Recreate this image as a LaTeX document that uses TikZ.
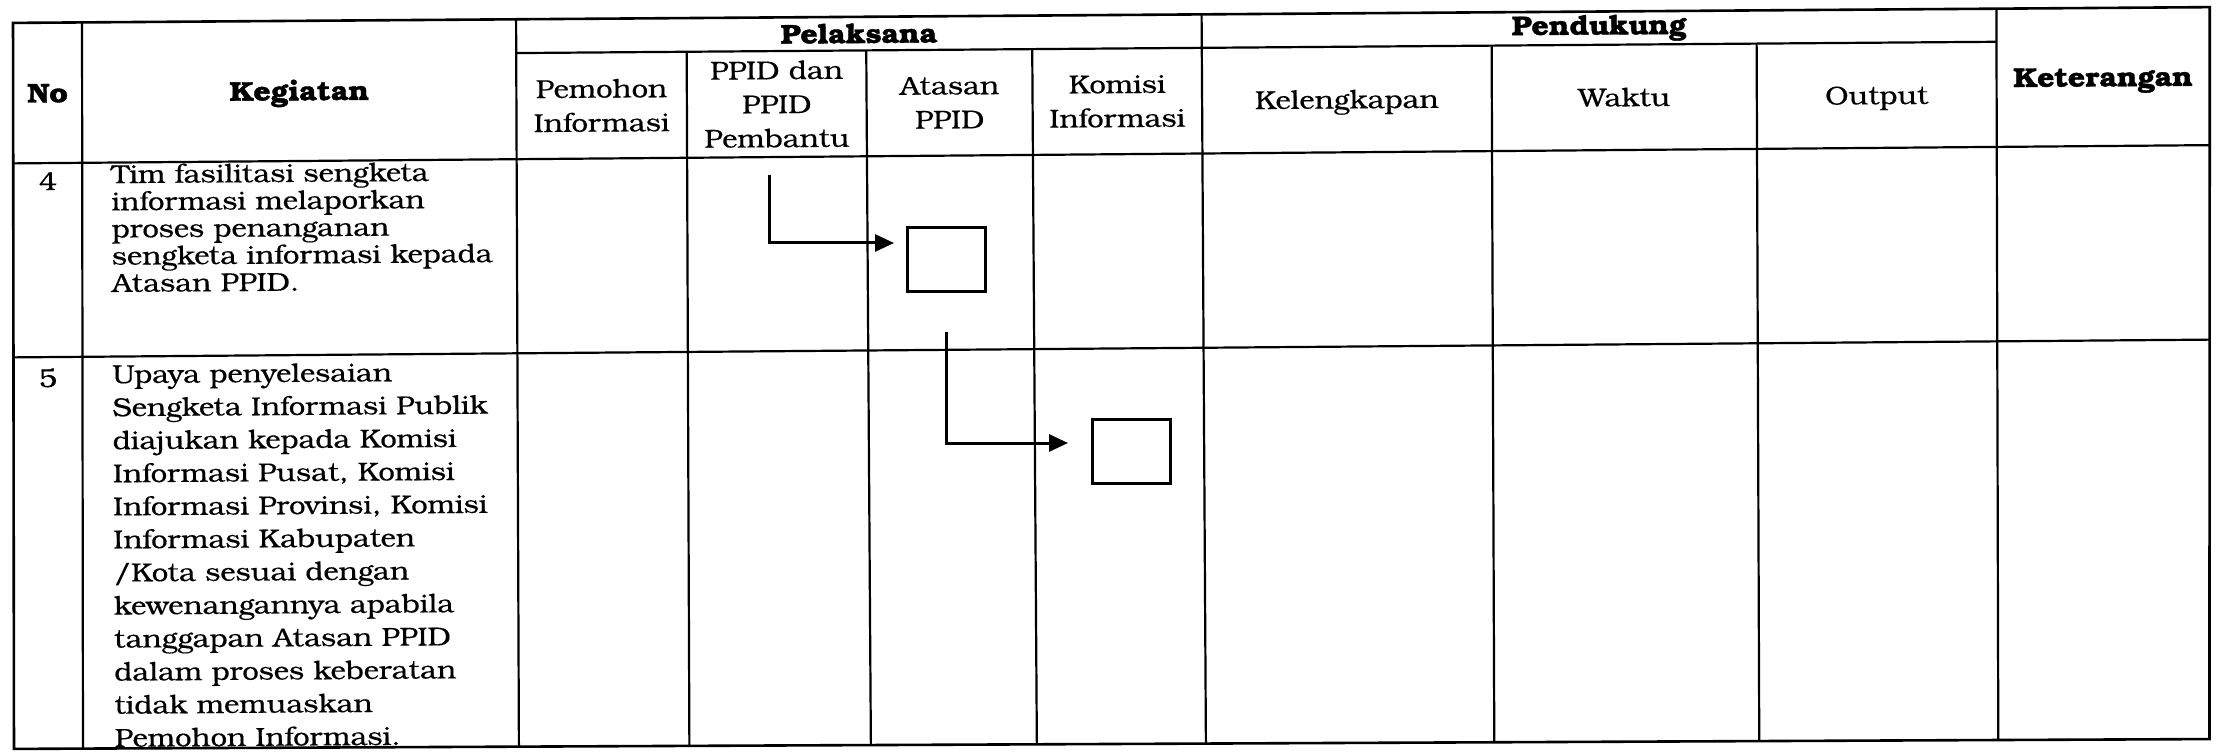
\documentclass[tikz,border=0pt]{standalone}
\usepackage{fontspec}
\setmainfont{TeX Gyre Bonum}[FakeStretch=1.12,UprightFeatures={FakeBold=0.4},BoldFeatures={FakeBold=1.4}]
\usetikzlibrary{arrows.meta,calc}
\lineskiplimit=-60pt
\begin{document}
\lineskiplimit=-60pt
\begin{tikzpicture}[x=1pt,y=-1pt,
  gridline/.style={line width=2.2pt},
  outerline/.style={line width=2.6pt, line join=miter},
  hdr/.style={font=\bfseries\fontsize{27}{34}\selectfont, inner sep=0pt, text height=19pt, text depth=0pt, rotate=0.4},
  subone/.style={font=\fontsize{26}{34}\selectfont, inner sep=0pt, text height=18pt, text depth=0pt, rotate=0.4},
  submulti/.style={font=\fontsize{26}{34}\selectfont, align=center, inner sep=0pt, rotate=0.4},
  num/.style={font=\fontsize{26}{34}\selectfont, anchor=base, inner sep=0pt, rotate=0.4},
  bodyA/.style={font=\fontsize{26}{27.2}\selectfont, align=left, anchor=north west, inner sep=0pt, rotate=0.4},
  bodyB/.style={font=\fontsize{26}{33.06}\selectfont, align=left, anchor=north west, inner sep=0pt, rotate=0.4},
  flowbox/.style={draw, line width=3.3pt, minimum width=78pt, minimum height=64pt, inner sep=0pt},
  flow/.style={line width=3pt, -{Triangle[length=19pt,width=17pt]}}
]
\fill[white] (0,0) rectangle (2225,754);
\useasboundingbox (0,0) rectangle (2225,754);
% horizontal rules (slightly skewed, as scanned)
\coordinate (h0L) at (0,23);    \coordinate (h0R) at (2225,7);
\coordinate (h1L) at (0,57);    \coordinate (h1R) at (2225,40);
\coordinate (h2L) at (0,163.5); \coordinate (h2R) at (2225,145);
\coordinate (h3L) at (0,357.5); \coordinate (h3R) at (2225,339.5);
\coordinate (h4L) at (0,749);   \coordinate (h4R) at (2225,739);
% vertical rules
\coordinate (v0T) at (13,0);     \coordinate (v0B) at (14,754);
\coordinate (v1T) at (82,0);     \coordinate (v1B) at (83,754);
\coordinate (v2T) at (516,0);    \coordinate (v2B) at (519,754);
\coordinate (v3T) at (686.5,0);  \coordinate (v3B) at (689.5,754);
\coordinate (v4T) at (866,0);    \coordinate (v4B) at (871,754);
\coordinate (v5T) at (1032,0);   \coordinate (v5B) at (1037,754);
\coordinate (v6T) at (1201.5,0); \coordinate (v6B) at (1206,754);
\coordinate (v7T) at (1491.5,0); \coordinate (v7B) at (1494.5,754);
\coordinate (v8T) at (1756.5,0); \coordinate (v8B) at (1759.5,754);
\coordinate (v9T) at (1996.5,0); \coordinate (v9B) at (1998.5,754);
\coordinate (v10T) at (2210,0);  \coordinate (v10B) at (2209.5,754);
\foreach \i in {0,...,4}{
  \foreach \j in {0,...,10}{
    \coordinate (c\i-\j) at (intersection of h\i L--h\i R and v\j T--v\j B);
  }
}
% table grid
\draw[outerline] (c0-0) -- (c0-10) -- (c4-10) -- (c4-0) -- cycle;
\draw[gridline] (c1-2) -- (c1-9);
\draw[gridline] (c2-0) -- (c2-10);
\draw[gridline] (c3-0) -- (c3-10);
\foreach \j in {1,2,6,9} \draw[gridline] (c0-\j) -- (c4-\j);
\foreach \j in {3,4,5,7,8} \draw[gridline] (c1-\j) -- (c4-\j);
% header texts
\node[hdr] (tNo) at ($(c0-0)!0.5!(c2-1)$) {No};
\node[hdr] (tKeg) at ($(c0-1)!0.5!(c2-2)$) {Kegiatan};
\node[hdr] (tPel) at ($(c0-2)!0.5!(c1-6)$) {Pelaksana};
\node[hdr] (tPen) at ($(c0-6)!0.5!(c1-9)+(0,-3)$) {Pendukung};
\node[hdr] (tKet) at ($(c0-9)!0.5!(c2-10)$) {Keterangan};
\node[submulti] (tPem) at ($(c1-2)!0.5!(c2-3)$) {Pemohon\\Informasi};
\node[submulti] (tPPID) at ($(c1-3)!0.5!(c2-4)$) {PPID dan\\PPID\\Pembantu};
\node[submulti] (tAts) at ($(c1-4)!0.5!(c2-5)$) {Atasan\\PPID};
\node[submulti] (tKom) at ($(c1-5)!0.5!(c2-6)$) {Komisi\\Informasi};
\node[subone] (tKel) at ($(c1-6)!0.5!(c2-7)$) {Kelengkapan};
\node[subone] (tWak) at ($(c1-7)!0.5!(c2-8)$) {Waktu};
\node[subone] (tOut) at ($(c1-8)!0.5!(c2-9)$) {Output};
% row 4
\node[num] (n4) at (48,190) {4};
\node[bodyA] (k4) at (111,161) {\rule{0pt}{22pt}Tim fasilitasi sengketa\\informasi melaporkan\\proses penanganan\\sengketa informasi kepada\\Atasan PPID.};
% row 5
\node[num] (n5) at (48,387) {5};
\node[bodyB] (k5) at (112,361) {\rule{0pt}{22pt}Upaya penyelesaian\\Sengketa Informasi Publik\\diajukan kepada Komisi\\Informasi Pusat, Komisi\\Informasi Provinsi, Komisi\\Informasi Kabupaten\\/Kota sesuai dengan\\kewenangannya apabila\\tanggapan Atasan PPID\\dalam proses keberatan\\tidak memuaskan\\Pemohon Informasi.};
% flow boxes and arrows
\node[flowbox] (b1) at (946.5,259.5) {};
\node[flowbox] (b2) at (1131.5,451.5) {};
\coordinate (a1s) at (769,175);
\coordinate (a1e) at (894,243);
\draw[flow] (a1s) |- (a1e);
\coordinate (a2s) at ($(b1.south)+(0,39)$);
\coordinate (a2e) at (1068,443);
\draw[flow] (a2s) |- (a2e);
\end{tikzpicture}
\end{document}
